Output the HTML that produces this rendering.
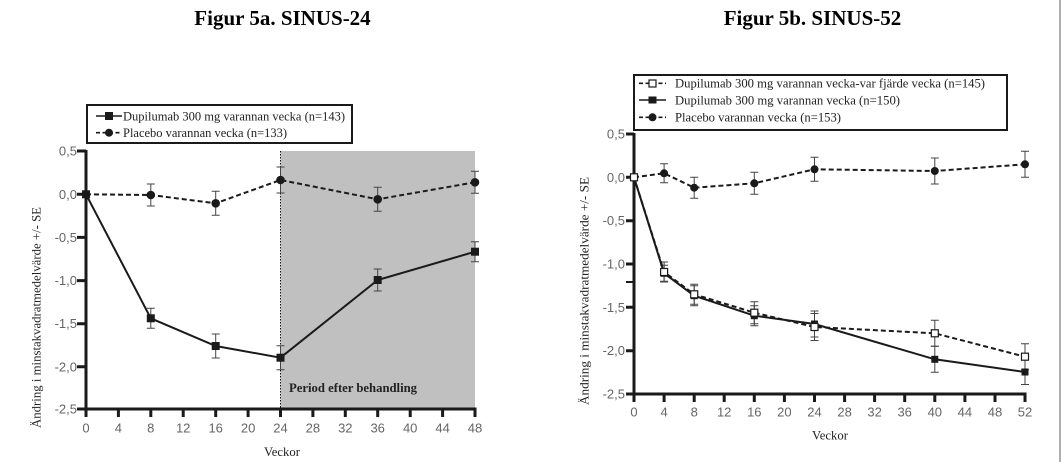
<!DOCTYPE html>
<html><head><meta charset="utf-8"><style>
html,body{margin:0;padding:0;background:#fff;}
svg{display:block;}
.t{font-family:"Liberation Sans",sans-serif;font-size:13px;fill:#666;}
.s{font-family:"Liberation Serif",serif;font-size:12.7px;fill:#222;}
.h{font-family:"Liberation Serif",serif;font-size:21px;font-weight:bold;fill:#000;}
</style></head><body>
<svg width="1062" height="462" viewBox="0 0 1062 462" xmlns="http://www.w3.org/2000/svg">
<rect width="1062" height="462" fill="#fff"/>
<line x1="1060" y1="0" x2="1060" y2="462" stroke="#b0b0b0" stroke-width="2"/>
<text class="h" x="282.5" y="25" text-anchor="middle">Figur 5a. SINUS-24</text>
<text class="h" x="812.5" y="25" text-anchor="middle">Figur 5b. SINUS-52</text>

<!-- ===== Chart A ===== -->
<rect x="280.5" y="151" width="194.5" height="258" fill="#c0c0c0"/>
<line x1="280.5" y1="151" x2="280.5" y2="409" stroke="#111" stroke-width="1" stroke-dasharray="1.5,1.5"/>
<text class="s" x="289" y="392" font-weight="bold" textLength="128" lengthAdjust="spacingAndGlyphs">Period efter behandling</text>
<!-- axes -->
<g stroke="#1a1a1a" stroke-width="3">
<line x1="86" y1="150" x2="86" y2="410.5"/>
<line x1="84.5" y1="409" x2="476.5" y2="409"/>
<path d="M77 151H86M77 194.3H86M77 237.4H86M77 280.6H86M77 323.7H86M77 366.8H86M77 409H86"/>
<path d="M86 409V417M118.4 409V417M150.8 409V417M183.2 409V417M215.7 409V417M248.1 409V417M280.5 409V417M312.9 409V417M345.3 409V417M377.7 409V417M410.2 409V417M442.6 409V417M475 409V417"/>
</g>
<g class="t" text-anchor="end">
<text x="77" y="155.5">0,5</text><text x="77" y="198.8">0,0</text><text x="77" y="241.9">-0,5</text>
<text x="77" y="285.1">-1,0</text><text x="77" y="328.2">-1,5</text><text x="77" y="371.3">-2,0</text><text x="77" y="413.5">-2,5</text>
</g>
<g class="t" text-anchor="middle">
<text x="86" y="432.5">0</text><text x="118.4" y="432.5">4</text><text x="150.8" y="432.5">8</text><text x="183.2" y="432.5">12</text>
<text x="215.7" y="432.5">16</text><text x="248.1" y="432.5">20</text><text x="280.5" y="432.5">24</text><text x="312.9" y="432.5">28</text>
<text x="345.3" y="432.5">32</text><text x="377.7" y="432.5">36</text><text x="410.2" y="432.5">40</text><text x="442.6" y="432.5">44</text><text x="475" y="432.5">48</text>
</g>
<text class="s" x="282" y="456" text-anchor="middle">Veckor</text>
<text class="s" transform="translate(40.5,317.5) rotate(-90)" text-anchor="middle" textLength="221" lengthAdjust="spacingAndGlyphs">Ändring i minstakvadratmedelvärde +/- SE</text>
<!-- error bars A -->
<g stroke="#444" stroke-width="1" fill="none">
<path d="M146.8 308.3h8M150.8 308.3V328.3M146.8 328.3h8"/>
<path d="M211.7 334h8M215.7 334V358M211.7 358h8"/>
<path d="M276.5 345.7h8M280.5 345.7V369.7M276.5 369.7h8"/>
<path d="M373.7 269h8M377.7 269V291M373.7 291h8"/>
<path d="M471 241.7h8M475 241.7V261.7M471 261.7h8"/>
<path d="M146.8 184h8M150.8 184V206M146.8 206h8"/>
<path d="M211.7 191.3h8M215.7 191.3V215.3M211.7 215.3h8"/>
<path d="M276.5 167h8M280.5 167V193M276.5 193h8"/>
<path d="M373.7 187.3h8M377.7 187.3V211.3M373.7 211.3h8"/>
<path d="M471 171.3h8M475 171.3V193.3M471 193.3h8"/>
</g>
<!-- series A -->
<polyline points="86,194.3 150.8,195 215.7,203.3 280.5,180 377.7,199.3 475,182.3" fill="none" stroke="#1a1a1a" stroke-width="2" stroke-dasharray="5,3"/>
<polyline points="86,194.3 150.8,318.3 215.7,346 280.5,357.7 377.7,280 475,251.7" fill="none" stroke="#1a1a1a" stroke-width="2"/>
<g fill="#1a1a1a">
<circle cx="150.8" cy="195" r="4.3"/><circle cx="215.7" cy="203.3" r="4.3"/><circle cx="280.5" cy="180" r="4.3"/><circle cx="377.7" cy="199.3" r="4.3"/><circle cx="475" cy="182.3" r="4.3"/>
<rect x="82" y="190.3" width="8" height="8"/><rect x="146.8" y="314.3" width="8" height="8"/><rect x="211.7" y="342" width="8" height="8"/>
<rect x="276.5" y="353.7" width="8" height="8"/><rect x="373.7" y="276" width="8" height="8"/><rect x="471" y="247.7" width="8" height="8"/>
</g>
<!-- legend A -->
<rect x="87" y="105" width="265" height="38" fill="#fff" stroke="#1a1a1a" stroke-width="2"/>
<line x1="96" y1="116" x2="122" y2="116" stroke="#1a1a1a" stroke-width="1.6"/>
<rect x="105" y="112" width="8" height="8" fill="#1a1a1a"/>
<line x1="96" y1="132.7" x2="122" y2="132.7" stroke="#1a1a1a" stroke-width="1.6" stroke-dasharray="4,2.5"/>
<circle cx="109" cy="132.7" r="4" fill="#1a1a1a"/>
<text class="s" x="123" y="120.5" textLength="222" lengthAdjust="spacingAndGlyphs">Dupilumab 300 mg varannan vecka (n=143)</text>
<text class="s" x="123" y="137" textLength="164" lengthAdjust="spacingAndGlyphs">Placebo varannan vecka (n=133)</text>

<!-- ===== Chart B ===== -->
<g stroke="#1a1a1a" stroke-width="3">
<line x1="634" y1="133" x2="634" y2="395.5"/>
<line x1="632.5" y1="394" x2="1026.5" y2="394"/>
<path d="M626 134H634M626 177.3H634M626 220.7H634M626 264H634M626 307.3H634M626 350.7H634M626 394H634"/>
<path d="M626 282H634" stroke-width="2"/>
<path d="M634 394V402M664.1 394V402M694.2 394V402M724.2 394V402M754.3 394V402M784.4 394V402M814.5 394V402M844.6 394V402M874.6 394V402M904.7 394V402M934.8 394V402M964.9 394V402M995 394V402M1025 394V402"/>
</g>
<g class="t" text-anchor="end">
<text x="625" y="138.5">0,5</text><text x="625" y="181.8">0,0</text><text x="625" y="225.2">-0,5</text>
<text x="625" y="268.5">-1,0</text><text x="625" y="311.8">-1,5</text><text x="625" y="355.2">-2,0</text><text x="625" y="398.5">-2,5</text>
</g>
<g class="t" text-anchor="middle">
<text x="634" y="416.5">0</text><text x="664.1" y="416.5">4</text><text x="694.2" y="416.5">8</text><text x="724.2" y="416.5">12</text>
<text x="754.3" y="416.5">16</text><text x="784.4" y="416.5">20</text><text x="814.5" y="416.5">24</text><text x="844.6" y="416.5">28</text>
<text x="874.6" y="416.5">32</text><text x="904.7" y="416.5">36</text><text x="934.8" y="416.5">40</text><text x="964.9" y="416.5">44</text>
<text x="995" y="416.5">48</text><text x="1025" y="416.5">52</text>
</g>
<text class="s" x="830" y="439.5" text-anchor="middle">Veckor</text>
<text class="s" transform="translate(588.5,291) rotate(-90)" text-anchor="middle" textLength="228" lengthAdjust="spacingAndGlyphs">Ändring i minstakvadratmedelvärde +/- SE</text>
<!-- error bars B -->
<g stroke="#444" stroke-width="1" fill="none">
<path d="M660.1 163.8h8M664.1 163.8V182.8M660.1 182.8h8"/>
<path d="M690.2 177.2h8M694.2 177.2V198.2M690.2 198.2h8"/>
<path d="M750.3 172.3h8M754.3 172.3V194.3M750.3 194.3h8"/>
<path d="M810.5 157.3h8M814.5 157.3V181.3M810.5 181.3h8"/>
<path d="M930.8 158h8M934.8 158V184M930.8 184h8"/>
<path d="M1021 151.3h8M1025 151.3V177.3M1021 177.3h8"/>
<path d="M660.1 265.3h8M664.1 265.3V281.3M660.1 281.3h8"/>
<path d="M690.2 285.7h8M694.2 285.7V305.7M690.2 305.7h8"/>
<path d="M750.3 305.7h8M754.3 305.7V325.7M750.3 325.7h8"/>
<path d="M810.5 311h8M814.5 311V337M810.5 337h8"/>
<path d="M930.8 346.3h8M934.8 346.3V372.3M930.8 372.3h8"/>
<path d="M1021 359.5h8M1025 359.5V384.5M1021 384.5h8"/>
<path d="M660.1 262h8M664.1 262V282M660.1 282h8"/>
<path d="M690.2 284.3h8M694.2 284.3V304.3M690.2 304.3h8"/>
<path d="M750.3 301.7h8M754.3 301.7V323.7M750.3 323.7h8"/>
<path d="M810.5 313.5h8M814.5 313.5V340.5M810.5 340.5h8"/>
<path d="M930.8 320.3h8M934.8 320.3V346.3M930.8 346.3h8"/>
<path d="M1021 343.7h8M1025 343.7V369.7M1021 369.7h8"/>
</g>
<!-- series B -->
<polyline points="634,177.3 664.1,173.3 694.2,187.7 754.3,183.3 814.5,169.3 934.8,171 1025,164.3" fill="none" stroke="#1a1a1a" stroke-width="2" stroke-dasharray="5,3"/>
<polyline points="634,177.3 664.1,273.3 694.2,295.7 754.3,315.7 814.5,324 934.8,359.3 1025,372" fill="none" stroke="#1a1a1a" stroke-width="2"/>
<polyline points="634,177.3 664.1,272 694.2,294.3 754.3,312.7 814.5,327 934.8,333.3 1025,356.7" fill="none" stroke="#1a1a1a" stroke-width="2" stroke-dasharray="5,3"/>
<g fill="#1a1a1a">
<circle cx="664.1" cy="173.3" r="4"/><circle cx="694.2" cy="187.7" r="4"/><circle cx="754.3" cy="183.3" r="4"/>
<circle cx="814.5" cy="169.3" r="4"/><circle cx="934.8" cy="171" r="4"/><circle cx="1025" cy="164.3" r="4"/>
<rect x="660.6" y="269.8" width="7" height="7"/><rect x="690.7" y="292.2" width="7" height="7"/><rect x="750.8" y="312.2" width="7" height="7"/>
<rect x="811" y="320.5" width="7" height="7"/><rect x="931.3" y="355.8" width="7" height="7"/><rect x="1021.5" y="368.5" width="7" height="7"/>
</g>
<g fill="#fff" stroke="#1a1a1a" stroke-width="1.2">
<rect x="630.5" y="173.8" width="7" height="7"/>
<rect x="660.6" y="268.5" width="7" height="7"/><rect x="690.7" y="290.8" width="7" height="7"/><rect x="750.8" y="309.2" width="7" height="7"/>
<rect x="811" y="323.5" width="7" height="7"/><rect x="931.3" y="329.8" width="7" height="7"/><rect x="1021.5" y="353.2" width="7" height="7"/>
</g>
<!-- legend B -->
<rect x="634" y="75" width="373" height="55" fill="#fff" stroke="#1a1a1a" stroke-width="2"/>
<line x1="639" y1="83.3" x2="666" y2="83.3" stroke="#1a1a1a" stroke-width="1.6" stroke-dasharray="4,2.5"/>
<rect x="649" y="80" width="7" height="7" fill="#fff" stroke="#1a1a1a" stroke-width="1.2"/>
<line x1="639" y1="100" x2="666" y2="100" stroke="#1a1a1a" stroke-width="1.6"/>
<rect x="648.5" y="96.5" width="8" height="7" fill="#1a1a1a"/>
<line x1="639" y1="117.3" x2="666" y2="117.3" stroke="#1a1a1a" stroke-width="1.6" stroke-dasharray="4,2.5"/>
<circle cx="652.5" cy="117.3" r="4" fill="#1a1a1a"/>
<text class="s" x="675" y="87.5" textLength="310" lengthAdjust="spacingAndGlyphs">Dupilumab 300 mg varannan vecka-var fjärde vecka (n=145)</text>
<text class="s" x="675" y="104.3" textLength="225" lengthAdjust="spacingAndGlyphs">Dupilumab 300 mg varannan vecka (n=150)</text>
<text class="s" x="675" y="121.6" textLength="166" lengthAdjust="spacingAndGlyphs">Placebo varannan vecka (n=153)</text>
</svg>
</body></html>
